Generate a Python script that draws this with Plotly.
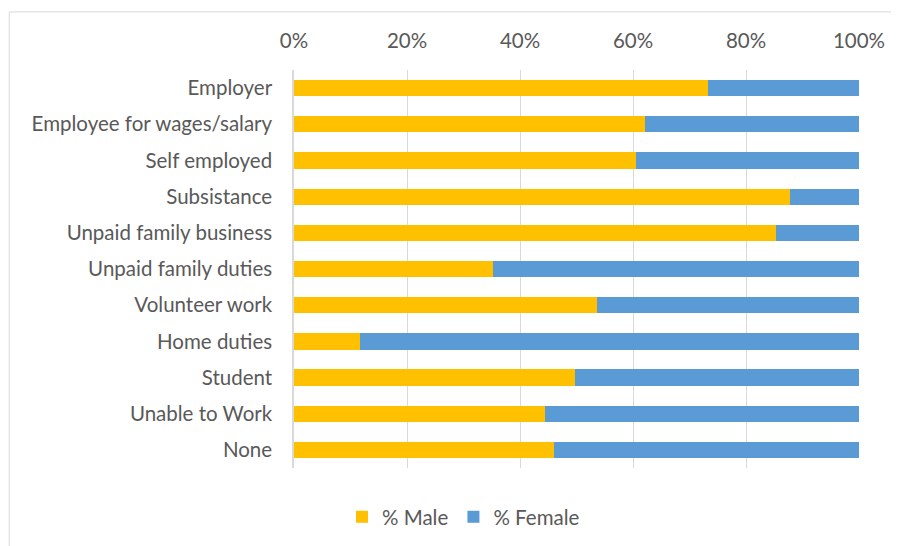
import plotly.graph_objects as go

categories = ["Employer", "Employee for wages/salary", "Self employed", "Subsistance",
              "Unpaid family business", "Unpaid family duties", "Volunteer work",
              "Home duties", "Student", "Unable to Work", "None"]
male = [0.733, 0.621, 0.606, 0.877, 0.853, 0.353, 0.536, 0.116, 0.497, 0.444, 0.461]
female = [round(1 - m, 3) for m in male]
tick_vals = [0, 0.2, 0.4, 0.6, 0.8, 1.0]
tick_text = ["0%", "20%", "40%", "60%", "80%", "100%"]

FONT = "Lato"
GRAY = "#595959"
FS = 20.5

fig = go.Figure()
fig.add_trace(go.Bar(y=categories, x=male, name="% Male", orientation="h",
                     marker=dict(color="#FFC000", line=dict(width=0)), width=0.45))
fig.add_trace(go.Bar(y=categories, x=female, name="% Female", orientation="h",
                     marker=dict(color="#5B9BD5", line=dict(width=0)), width=0.45))

fig.update_layout(
    barmode="stack",
    width=899, height=546,
    margin=dict(l=286, r=48, t=62, b=86),
    paper_bgcolor="white", plot_bgcolor="white",
    font=dict(family=FONT, size=FS, color=GRAY),
    showlegend=True,
    legend=dict(orientation="h", x=0.30, xanchor="center", y=-0.123, yanchor="middle",
                font=dict(size=FS, color=GRAY), traceorder="normal", itemwidth=30),
    xaxis=dict(side="top", range=[0, 1], tickvals=tick_vals, ticktext=tick_text,
               showgrid=True, gridcolor="#D9D9D9", gridwidth=1, zeroline=False,
               showline=False, ticks="", ticklabelstandoff=17, fixedrange=True),
    yaxis=dict(categoryorder="array", categoryarray=categories, autorange="reversed",
               showgrid=False, zeroline=False, showline=True, linecolor="#D9D9D9",
               linewidth=1.5, ticks="", ticklabelstandoff=16),
    shapes=[dict(type="rect", xref="paper", yref="paper", x0=-0.504, x1=1.2,
                 y0=-0.35, y1=1.146, line=dict(color="#D9D9D9", width=1),
                 fillcolor="rgba(0,0,0,0)", layer="below")],
)

fig.write_html("out.html")
